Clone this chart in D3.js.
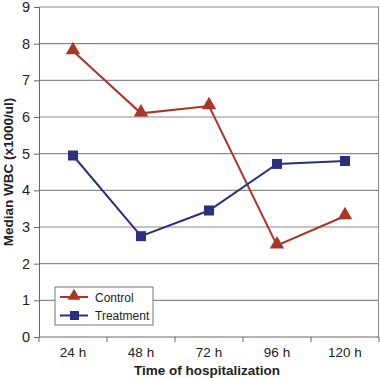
<!DOCTYPE html>
<html>
<head>
<meta charset="utf-8">
<script src="https://cdn.jsdelivr.net/npm/d3@7"></script>
<style>
  body { margin: 0; background: #fff; }
  text { font-family: "Liberation Sans", Arial, sans-serif; fill: #222; }
</style>
</head>
<body>
<svg id="chart"></svg>
<script>
const categories = ["24 h", "48 h", "72 h", "96 h", "120 h"];
const control = [7.8, 6.1, 6.3, 2.5, 3.3];
const treatment = [4.95, 2.75, 3.45, 4.72, 4.8];
const yTicks = [0, 1, 2, 3, 4, 5, 6, 7, 8, 9];

const margin = {top: 7, right: 1, bottom: 41, left: 39},
  W = 380, H = 378,
  width = W - margin.left - margin.right,
  height = H - margin.top - margin.bottom;

const svg = d3.select("#chart")
  .attr("width", W)
  .attr("height", H)
  .append("g")
  .attr("transform", "translate(" + margin.left + "," + margin.top + ")");

const x = d3.scaleBand().domain(categories).range([0, width]);
const y = d3.scaleLinear().domain([0, 9]).range([height, 0]);

// grid lines
svg.append("g").selectAll("line")
  .data(yTicks.filter(d => d > 0))
  .join("line")
  .attr("x1", 0).attr("x2", width)
  .attr("y1", d => y(d)).attr("y2", d => y(d))
  .attr("stroke", "#8a8a8a").attr("stroke-width", 1.2);

// right border
svg.append("line")
  .attr("x1", width - 0.5).attr("x2", width - 0.5)
  .attr("y1", 0).attr("y2", height)
  .attr("stroke", "#8a8a8a").attr("stroke-width", 1);

// y axis
const yAxis = svg.append("g")
  .call(d3.axisLeft(y).tickValues(yTicks).tickSize(5).tickPadding(4));
yAxis.select(".domain").attr("stroke", "#666");
yAxis.selectAll(".tick line").attr("stroke", "#666");
yAxis.selectAll("text").attr("font-size", 14.5).attr("fill", "#222")
  .style("font-family", "Liberation Sans, Arial, sans-serif");

// x axis, ticks sit on the band edges
const xAxisG = svg.append("g").attr("transform", "translate(0," + height + ")");
xAxisG.append("line")
  .attr("x1", 0).attr("x2", width)
  .attr("stroke", "#666");
xAxisG.selectAll("line.tk")
  .data(d3.range(categories.length + 1))
  .join("line")
  .attr("class", "tk")
  .attr("x1", i => i * x.bandwidth()).attr("x2", i => i * x.bandwidth())
  .attr("y1", 0).attr("y2", 5)
  .attr("stroke", "#666");
xAxisG.selectAll("text")
  .data(categories)
  .join("text")
  .attr("x", d => x(d) + x.bandwidth() / 2)
  .attr("y", 20)
  .attr("text-anchor", "middle")
  .attr("font-size", 13.5)
  .text(d => d);

// axis titles
svg.append("text")
  .attr("x", width / 2 - 2)
  .attr("y", height + 38)
  .attr("text-anchor", "middle")
  .attr("font-size", 13.5)
  .attr("font-weight", "bold")
  .text("Time of hospitalization");

svg.append("text")
  .attr("transform", "translate(" + (-26) + "," + (height / 2) + ") rotate(-90)")
  .attr("text-anchor", "middle")
  .attr("font-size", 13.5)
  .attr("font-weight", "bold")
  .text("Median WBC (x1000/ul)");

const cx = d => x(d) + x.bandwidth() / 2;
const line = d3.line().x((d, i) => cx(categories[i])).y(d => y(d));

const red = "#ab3528", blue = "#2a2f80";

svg.append("path").datum(control)
  .attr("d", line).attr("fill", "none")
  .attr("stroke", red).attr("stroke-width", 2);
svg.append("path").datum(treatment)
  .attr("d", line).attr("fill", "none")
  .attr("stroke", blue).attr("stroke-width", 2);

const tri = d3.symbol().type(d3.symbolTriangle).size(90);
svg.append("g").selectAll("path")
  .data(control)
  .join("path")
  .attr("d", tri)
  .attr("transform", (d, i) => "translate(" + cx(categories[i]) + "," + (y(d) - 1) + ")")
  .attr("fill", red);

svg.append("g").selectAll("rect")
  .data(treatment)
  .join("rect")
  .attr("x", (d, i) => cx(categories[i]) - 5)
  .attr("y", d => y(d) - 5)
  .attr("width", 10).attr("height", 10)
  .attr("fill", blue);

// legend
const lg = svg.append("g").attr("transform", "translate(16,280)");
lg.append("rect")
  .attr("width", 98).attr("height", 38)
  .attr("fill", "#fff").attr("stroke", "#777").attr("stroke-width", 1);
const items = [{name: "Control", color: red, shape: "tri"},
               {name: "Treatment", color: blue, shape: "sq"}];
items.forEach((it, i) => {
  const yy = 10 + i * 18.5;
  lg.append("line").attr("x1", 5).attr("x2", 33)
    .attr("y1", yy).attr("y2", yy)
    .attr("stroke", it.color).attr("stroke-width", 2);
  if (it.shape === "tri") {
    lg.append("path").attr("d", d3.symbol().type(d3.symbolTriangle).size(70))
      .attr("transform", "translate(19," + (yy - 1) + ")").attr("fill", it.color);
  } else {
    lg.append("rect").attr("x", 15).attr("y", yy - 4.5)
      .attr("width", 9).attr("height", 9).attr("fill", it.color);
  }
  lg.append("text").attr("x", 40).attr("y", yy + 4.5)
    .attr("font-size", 12).text(it.name);
});
</script>
</body>
</html>
